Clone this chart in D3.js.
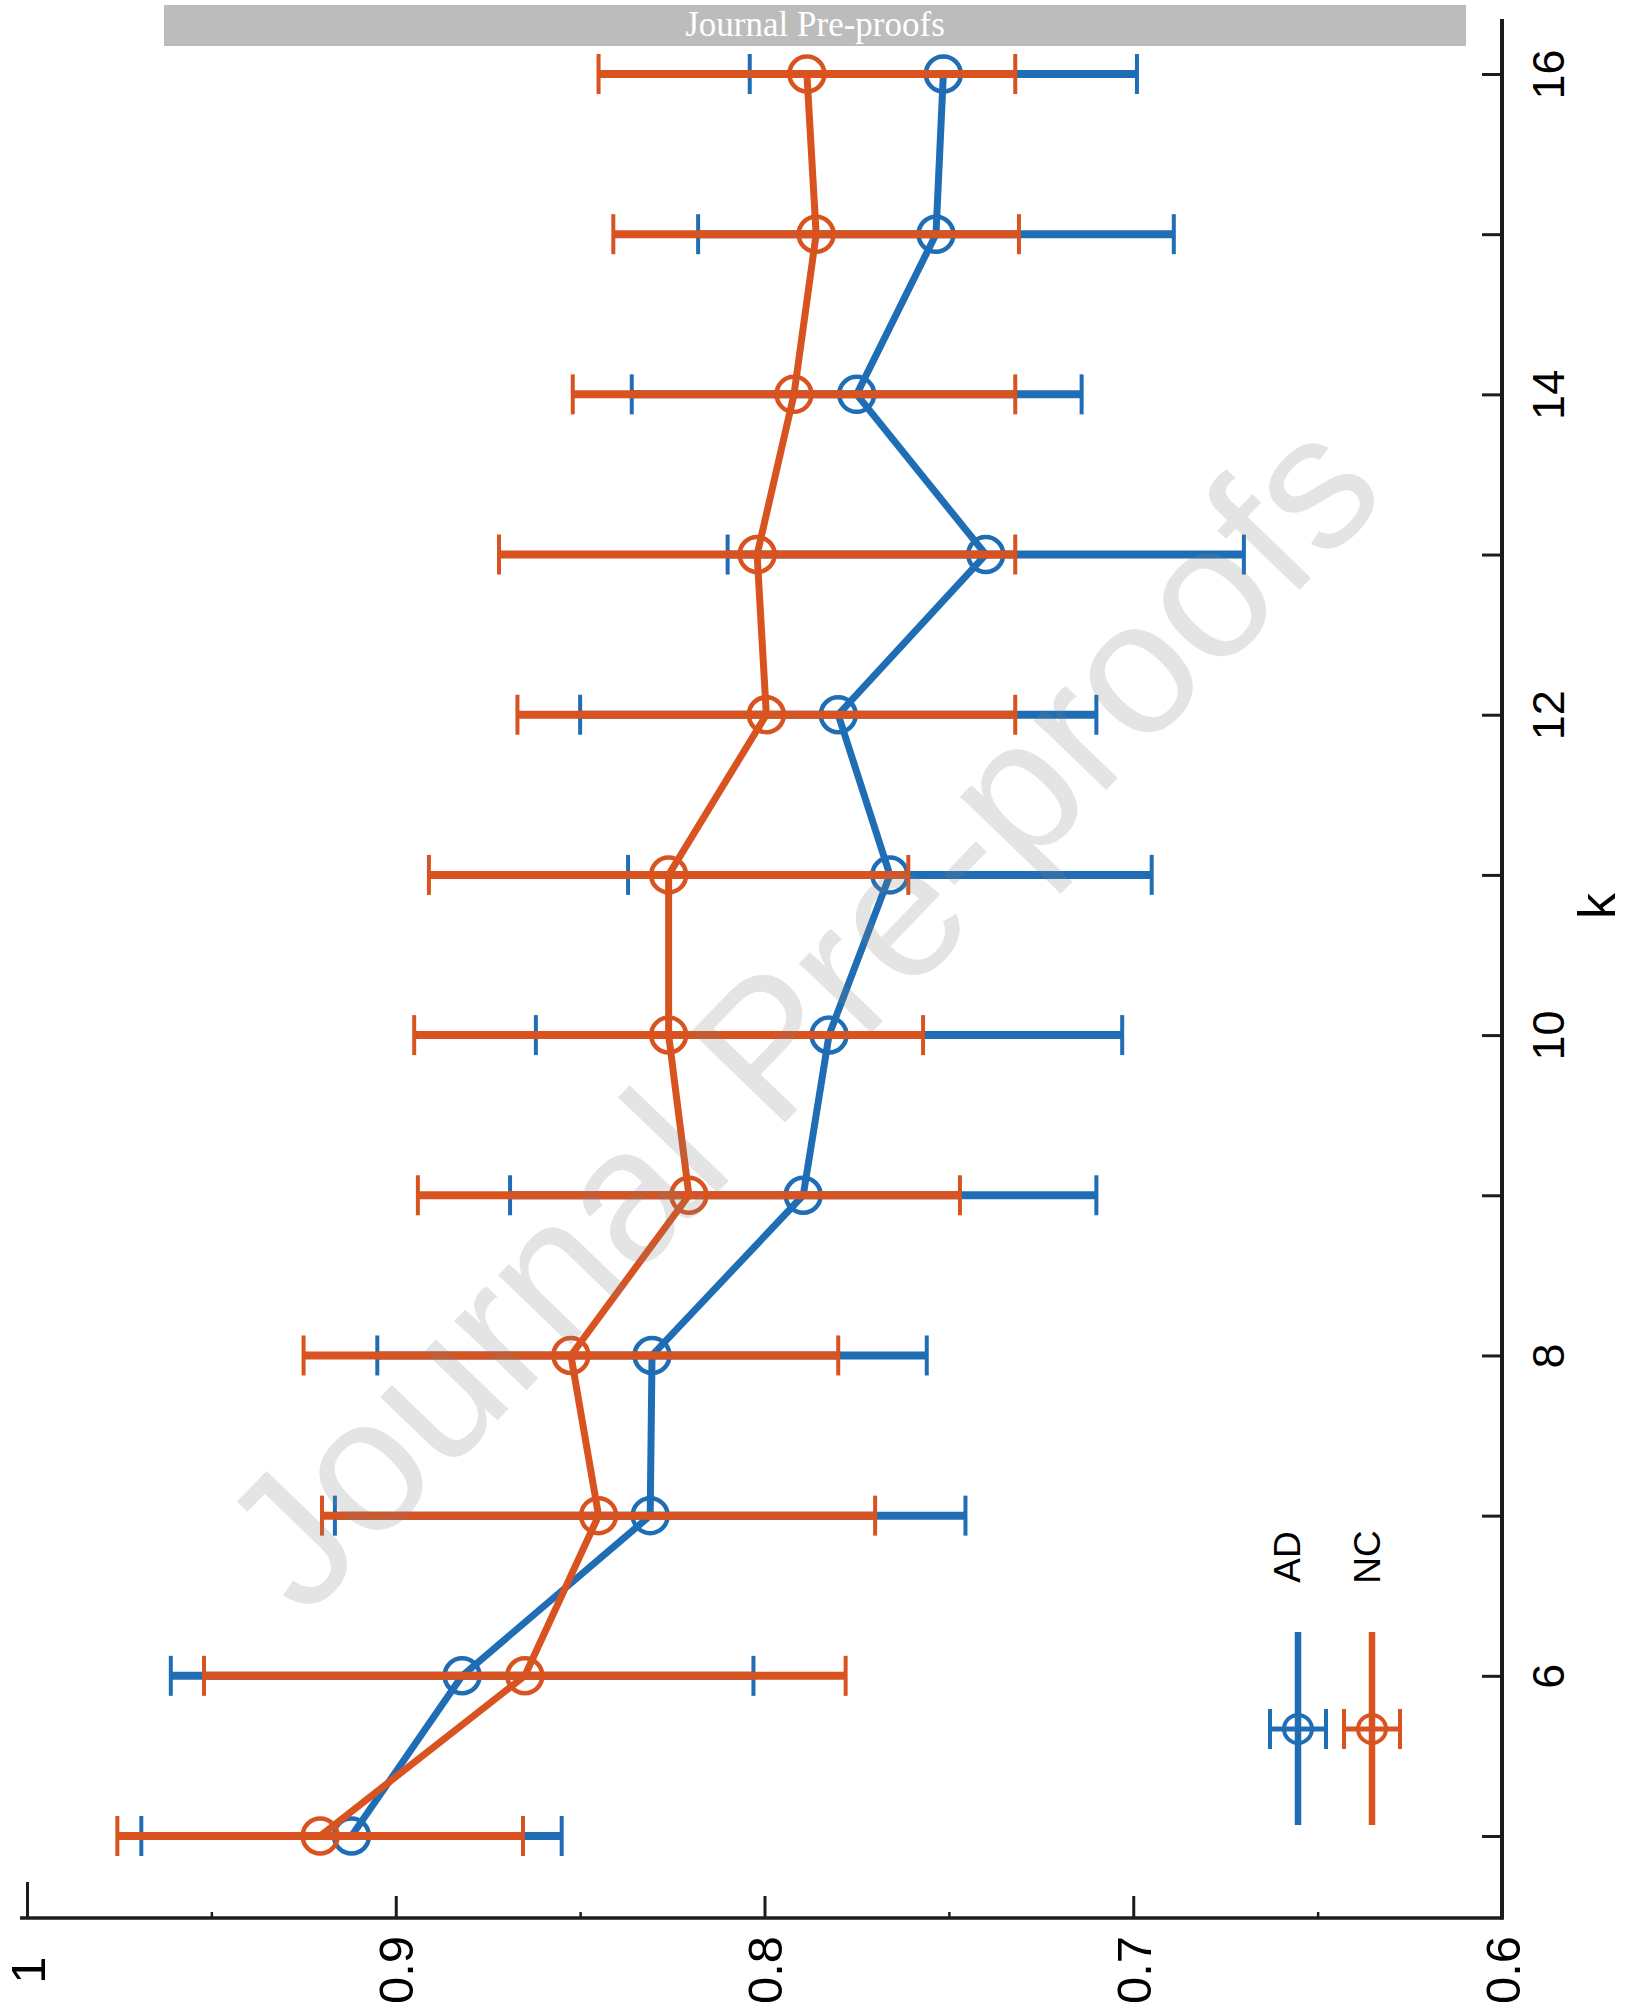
<!DOCTYPE html>
<html>
<head>
<meta charset="utf-8">
<script src="https://cdn.jsdelivr.net/npm/d3@7"></script>
<style>
  html, body { margin: 0; padding: 0; background: #ffffff; }
  svg { display: block; }
</style>
</head>
<body>
<script>
// Cluster count k and mean score with symmetric error per group
const kValues = [5, 6, 7, 8, 9, 10, 11, 12, 13, 14, 15, 16];
const adMean = [0.912, 0.882, 0.831, 0.8305, 0.7895, 0.7825, 0.766, 0.780, 0.740, 0.775, 0.7535, 0.7515];
const adErr  = [0.057, 0.079, 0.0855, 0.0745, 0.0795, 0.0795, 0.071, 0.070, 0.070, 0.061, 0.0645, 0.0525];
const ncMean = [0.9205, 0.865, 0.845, 0.8525, 0.8205, 0.826, 0.826, 0.7995, 0.802, 0.792, 0.786, 0.7885];
const ncErr  = [0.055, 0.087, 0.075, 0.0725, 0.0735, 0.069, 0.065, 0.0675, 0.070, 0.060, 0.055, 0.0565];
const seriesNames = ["AD", "NC"];
const seriesColors = ["#1f6db5", "#d8531f"];

// Tick labels
const valueTickLabels = [1, 0.9, 0.8, 0.7, 0.6];
const valueMinorTicks = [0.95, 0.85, 0.75, 0.65];
const kTickMarks = [5, 6, 7, 8, 9, 10, 11, 12, 13, 14, 15, 16];
const kTickLabels = [6, 8, 10, 12, 14, 16];

const W = 1628, H = 2011;
const axisColor = "#1c1c1c";
const sans = "'Liberation Sans', Arial, Helvetica, sans-serif";

const svg = d3.select("body").append("svg")
  .attr("width", W).attr("height", H)
  .attr("viewBox", `0 0 ${W} ${H}`);

svg.append("rect").attr("width", W).attr("height", H).attr("fill", "#fff");

// Plot is laid out sideways: score runs left→right (1 → 0.6), k runs bottom→top
const x = d3.scaleLinear().domain([1, 0.6]).range([27, 1502]);
const y = d3.scaleLinear().domain([5, 16]).range([1836, 74]);
const axisY = 1918;   // baseline of the score axis
const axisX = x(0.6); // position of the k axis

// ---- score axis (bottom) ----
const gBottom = svg.append("g").attr("transform", `translate(0,${axisY})`);
gBottom.call(d3.axisBottom(x).tickValues(valueTickLabels.filter(v => v !== 1 && v !== 0.6))
    .tickSize(-22).tickFormat(""))
  .call(g => g.select(".domain").remove())
  .call(g => g.selectAll(".tick line").attr("stroke", axisColor).attr("stroke-width", 3));
gBottom.append("g")
  .call(d3.axisBottom(x).tickValues([1]).tickSize(-36).tickFormat(""))
  .call(g => g.select(".domain").remove())
  .call(g => g.selectAll(".tick line").attr("stroke", axisColor).attr("stroke-width", 3));
gBottom.append("g")
  .call(d3.axisBottom(x).tickValues(valueMinorTicks).tickSize(-6).tickFormat(""))
  .call(g => g.select(".domain").remove())
  .call(g => g.selectAll(".tick line").attr("stroke", axisColor).attr("stroke-width", 2.5));
gBottom.append("line")
  .attr("x1", 20).attr("x2", axisX + 1.5)
  .attr("stroke", axisColor).attr("stroke-width", 3.5);

const gBottomLabels = gBottom.append("g")
  .call(d3.axisBottom(x).tickValues(valueTickLabels).tickSize(0).tickFormat(d3.format("")))
  .call(g => g.select(".domain").remove());
gBottomLabels.selectAll(".tick text")
  .attr("y", null).attr("dy", null)
  .attr("transform", "translate(0,52) rotate(-90)")
  .attr("text-anchor", "middle")
  .attr("dominant-baseline", "central")
  .attr("fill", "#000")
  .style("font-family", sans).style("font-size", "49px");

// ---- k axis (right) ----
const gRight = svg.append("g").attr("transform", `translate(${axisX},0)`);
gRight.call(d3.axisRight(y).tickValues(kTickMarks).tickSize(-20)
    .tickFormat(d => kTickLabels.includes(d) ? d : ""))
  .call(g => g.select(".domain").remove())
  .call(g => g.selectAll(".tick line").attr("stroke", axisColor).attr("stroke-width", 3));
gRight.selectAll(".tick text")
  .attr("x", null).attr("dy", null)
  .attr("transform", "translate(46,0) rotate(-90)")
  .attr("text-anchor", "middle")
  .attr("dominant-baseline", "central")
  .attr("fill", "#000")
  .style("font-family", sans).style("font-size", "45px");
gRight.append("line")
  .attr("y1", 19).attr("y2", axisY + 1.5)
  .attr("stroke", axisColor).attr("stroke-width", 4);

svg.append("text")
  .attr("transform", "translate(1597,906) rotate(-90)")
  .attr("text-anchor", "middle").attr("dominant-baseline", "central")
  .style("font-family", sans).style("font-size", "52px")
  .attr("fill", "#000")
  .text("k");

// ---- series ----
function drawSeries(means, errs, color) {
  const pts = kValues.map((k, i) => ({ k, v: means[i], e: errs[i] }));
  const g = svg.append("g");
  g.selectAll("line.bar").data(pts).join("line").attr("class", "bar")
    .attr("x1", d => x(d.v + d.e)).attr("x2", d => x(d.v - d.e))
    .attr("y1", d => y(d.k)).attr("y2", d => y(d.k))
    .attr("stroke", color).attr("stroke-width", 8);
  g.append("path").datum(pts)
    .attr("d", d3.line().x(d => x(d.v)).y(d => y(d.k)))
    .attr("fill", "none").attr("stroke", color)
    .attr("stroke-width", 7).attr("stroke-linejoin", "round");
  const caps = pts.flatMap(d => [d.v + d.e, d.v - d.e].map(v => ({ k: d.k, v })));
  g.selectAll("line.cap").data(caps).join("line").attr("class", "cap")
    .attr("x1", d => x(d.v)).attr("x2", d => x(d.v))
    .attr("y1", d => y(d.k) - 20).attr("y2", d => y(d.k) + 20)
    .attr("stroke", color).attr("stroke-width", 4);
  g.selectAll("circle").data(pts).join("circle")
    .attr("cx", d => x(d.v)).attr("cy", d => y(d.k)).attr("r", 17.5)
    .attr("fill", "none").attr("stroke", color).attr("stroke-width", 4.5);
}
drawSeries(adMean, adErr, seriesColors[0]);
drawSeries(ncMean, ncErr, seriesColors[1]);

// ---- legend ----
const legendX = [1298, 1372];
const legendLabelX = [1287, 1367];
seriesNames.forEach((name, i) => {
  const g = svg.append("g");
  const cx = legendX[i], cy = 1729, c = seriesColors[i];
  g.append("line").attr("x1", cx).attr("x2", cx).attr("y1", 1632).attr("y2", 1825)
    .attr("stroke", c).attr("stroke-width", 6.5);
  g.append("line").attr("x1", cx - 28).attr("x2", cx + 28).attr("y1", cy).attr("y2", cy)
    .attr("stroke", c).attr("stroke-width", 5);
  [-28, 28].forEach(o => g.append("line")
    .attr("x1", cx + o).attr("x2", cx + o).attr("y1", cy - 20).attr("y2", cy + 20)
    .attr("stroke", c).attr("stroke-width", 4));
  g.append("circle").attr("cx", cx).attr("cy", cy).attr("r", 14)
    .attr("fill", "none").attr("stroke", c).attr("stroke-width", 4);
  g.append("text")
    .attr("transform", `translate(${legendLabelX[i]},1557) rotate(-90)`)
    .attr("text-anchor", "middle").attr("dominant-baseline", "central")
    .style("font-family", sans).style("font-size", "37px").attr("fill", "#000")
    .text(name);
});

// ---- watermark ----
svg.append("text")
  .attr("transform", "translate(800,1012) rotate(-46)")
  .attr("text-anchor", "middle").attr("dominant-baseline", "central")
  .style("font-family", sans).style("font-size", "190px")
  .attr("fill", "#808080").attr("fill-opacity", 0.21)
  .text("Journal Pre-proofs");

// ---- header banner ----
svg.append("rect").attr("x", 164).attr("y", 5).attr("width", 1302).attr("height", 41)
  .attr("fill", "#bcbcbc");
svg.append("text").attr("x", 815).attr("y", 36)
  .attr("text-anchor", "middle")
  .style("font-family", "'Liberation Serif', 'Times New Roman', serif").style("font-size", "35px")
  .attr("fill", "#fff")
  .text("Journal Pre-proofs");
</script>
</body>
</html>
